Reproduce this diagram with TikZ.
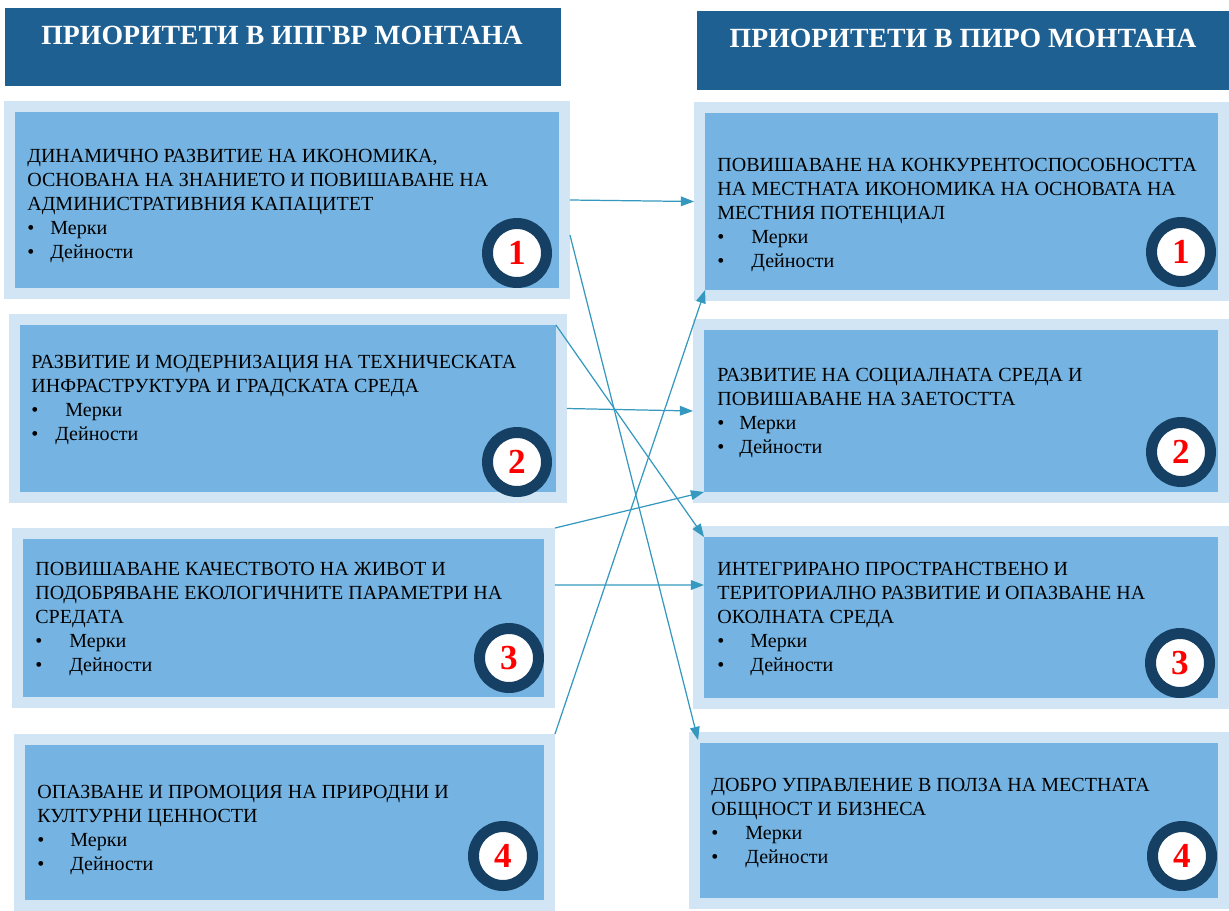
\documentclass[tikz,border=0pt]{standalone}
\usepackage{fontspec}
\setmainfont{Liberation Serif}
\usepackage{tikz}
\usetikzlibrary{positioning,arrows.meta,calc}

\definecolor{hdrblue}{RGB}{30,96,146}
\definecolor{boxlight}{RGB}{210,229,244}
\definecolor{boxmid}{RGB}{117,180,226}
\definecolor{ringnavy}{RGB}{22,64,99}
\definecolor{linkblue}{RGB}{53,152,190}
\newcommand{\blt}[1]{\makebox[#1][l]{•}}

\begin{document}
\begin{tikzpicture}[
    x=0.02cm, y=-0.02cm,
    header/.style={fill=hdrblue, inner sep=0pt, outer sep=0pt},
    title/.style={text=white, font=\bfseries\fontsize{15.8}{17}\selectfont, inner sep=0pt},
    outerbox/.style={fill=boxlight, inner sep=0pt, outer sep=0pt},
    innerbox/.style={fill=boxmid, inner sep=0pt, outer sep=0pt},
    prio/.style={anchor=north west, align=left, inner sep=0pt, font=\fontsize{11.4}{13.6}\selectfont},
    num/.style={circle, fill=white, draw=ringnavy, line width=0.22cm, minimum size=1.18cm, inner sep=0pt, text=red, font=\bfseries\fontsize{20}{20}\selectfont},
    link/.style={-{Triangle[length=7.5pt, width=5.5pt]}, draw=linkblue, line width=0.7pt}
]
\useasboundingbox (0,0) rectangle (1229,910);

\node[header, minimum width=11.12cm, minimum height=1.56cm] (lhead) at (283,47) {};
\node[title] (ltitle) at (282,35) {ПРИОРИТЕТИ В ИПГВР МОНТАНА};
\node[header, minimum width=10.64cm, minimum height=1.58cm] (rhead) at (963,50.5) {};
\node[title] (rtitle) at (963,38) {ПРИОРИТЕТИ В ПИРО МОНТАНА};

\node[outerbox, minimum width=11.32cm, minimum height=3.96cm] (l1) at (287,200) {};
\node[innerbox, minimum width=10.88cm, minimum height=3.52cm] (l1in) at (l1) {};
\node[prio] (l1txt) at (27,149) {ДИНАМИЧНО РАЗВИТИЕ НА ИКОНОМИКА,\\ОСНОВАНА НА ЗНАНИЕТО И ПОВИШАВАНЕ НА\\АДМИНИСТРАТИВНИЯ КАПАЦИТЕТ\\\blt{0.46cm}Мерки\\\blt{0.46cm}Дейности};
\node[num] (l1num) at (517,253) {1};

\node[outerbox, minimum width=11.16cm, minimum height=3.78cm] (l2) at (288,408.5) {};
\node[innerbox, minimum width=10.72cm, minimum height=3.34cm] (l2in) at (l2) {};
\node[prio] (l2txt) at (31,355) {РАЗВИТИЕ И МОДЕРНИЗАЦИЯ НА ТЕХНИЧЕСКАТА\\ИНФРАСТРУКТУРА И ГРАДСКАТА СРЕДА\\\blt{0.68cm}Мерки\\\blt{0.48cm}Дейности};
\node[num] (l2num) at (517,462) {2};

\node[outerbox, minimum width=10.86cm, minimum height=3.60cm] (l3) at (283.5,618) {};
\node[innerbox, minimum width=10.42cm, minimum height=3.16cm] (l3in) at (l3) {};
\node[prio] (l3txt) at (35,562) {ПОВИШАВАНЕ КАЧЕСТВОТО НА ЖИВОТ И\\ПОДОБРЯВАНЕ ЕКОЛОГИЧНИТЕ ПАРАМЕТРИ НА\\СРЕДАТА\\\blt{0.68cm}Мерки\\\blt{0.68cm}Дейности};
\node[num] (l3num) at (509,658) {3};

\node[outerbox, minimum width=10.82cm, minimum height=3.54cm] (l4) at (284.5,822.5) {};
\node[innerbox, minimum width=10.38cm, minimum height=3.10cm] (l4in) at (l4) {};
\node[prio] (l4txt) at (37,785) {ОПАЗВАНЕ И ПРОМОЦИЯ НА ПРИРОДНИ И\\КУЛТУРНИ ЦЕННОСТИ\\\blt{0.66cm}Мерки\\\blt{0.66cm}Дейности};
\node[num] (l4num) at (503,856) {4};

\node[outerbox, minimum width=10.70cm, minimum height=3.98cm] (r1) at (961.5,201.5) {};
\node[innerbox, minimum width=10.26cm, minimum height=3.54cm] (r1in) at (r1) {};
\node[prio] (r1txt) at (717,158) {ПОВИШАВАНЕ НА КОНКУРЕНТОСПОСОБНОСТТА\\НА МЕСТНАТА ИКОНОМИКА НА ОСНОВАТА НА\\МЕСТНИЯ ПОТЕНЦИАЛ\\\blt{0.68cm}Мерки\\\blt{0.68cm}Дейности};
\node[num] (r1num) at (1181,252) {1};

\node[outerbox, minimum width=10.72cm, minimum height=3.68cm] (r2) at (961,411) {};
\node[innerbox, minimum width=10.28cm, minimum height=3.24cm] (r2in) at (r2) {};
\node[prio] (r2txt) at (717,368) {РАЗВИТИЕ НА СОЦИАЛНАТА СРЕДА И\\ПОВИШАВАНЕ НА ЗАЕТОСТТА\\\blt{0.44cm}Мерки\\\blt{0.44cm}Дейности};
\node[num] (r2num) at (1181,452) {2};

\node[outerbox, minimum width=10.72cm, minimum height=3.66cm] (r3) at (961,617.5) {};
\node[innerbox, minimum width=10.28cm, minimum height=3.22cm] (r3in) at (r3) {};
\node[prio] (r3txt) at (717,562) {ИНТЕГРИРАНО ПРОСТРАНСТВЕНО И\\ТЕРИТОРИАЛНО РАЗВИТИЕ И ОПАЗВАНЕ НА\\ОКОЛНАТА СРЕДА\\\blt{0.66cm}Мерки\\\blt{0.66cm}Дейности};
\node[num] (r3num) at (1180,663) {3};

\node[outerbox, minimum width=10.80cm, minimum height=3.54cm] (r4) at (959,820.5) {};
\node[innerbox, minimum width=10.36cm, minimum height=3.10cm] (r4in) at (r4) {};
\node[prio] (r4txt) at (711,778) {ДОБРО УПРАВЛЕНИЕ В ПОЛЗА НА МЕСТНАТА\\ОБЩНОСТ И БИЗНЕСА\\\blt{0.68cm}Мерки\\\blt{0.68cm}Дейности};
\node[num] (r4num) at (1182,856) {4};

\draw[link] (l1.east) -- (r1.west);
\draw[link] ([yshift=-0.7cm]l1.east) -- ([xshift=0.18cm,yshift=-0.16cm]r4.north west);
\draw[link] (l2in.north east) -- (r3in.north west);
\draw[link] (l2.east) -- (r2.west);
\draw[link] (l3.north east) -- (r2in.south west);
\draw[link] ([yshift=0.66cm]l3.east) -- ([yshift=0.65cm]r3in.west);
\draw[link] (l4.north east) -- (r1in.south west);
\end{tikzpicture}
\end{document}
